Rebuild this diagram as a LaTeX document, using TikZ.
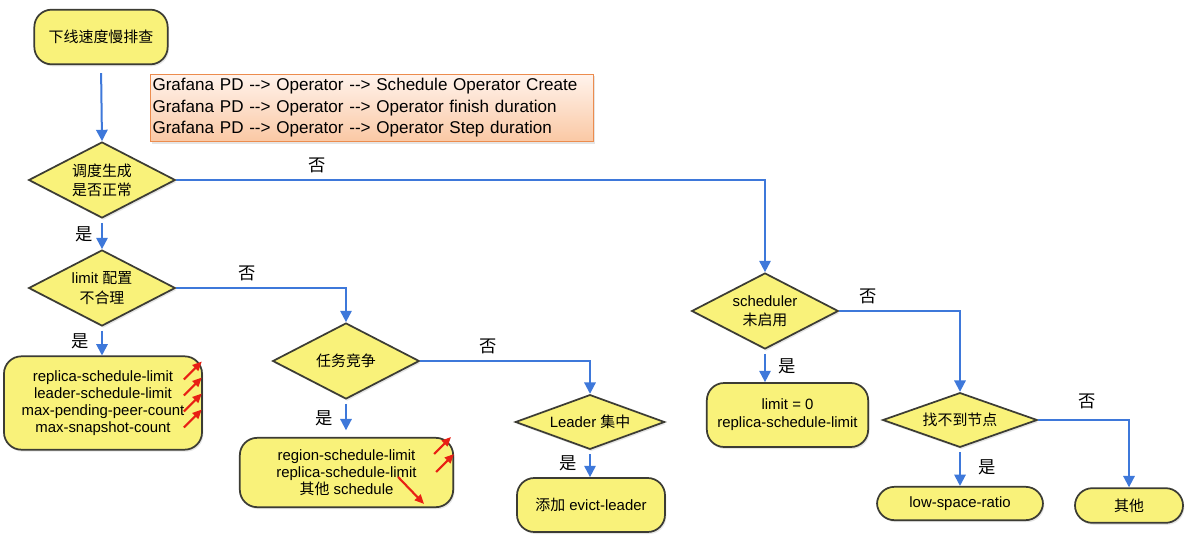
\documentclass[tikz,border=0pt]{standalone}
\usepackage{fontspec}
\setmainfont{Liberation Sans}
\newfontfamily\cjk{Noto Sans CJK SC}
\usetikzlibrary{shapes.geometric, arrows.meta, positioning, calc, shadows}

\definecolor{boxyellow}{RGB}{249,242,122}
\definecolor{boxedge}{RGB}{60,60,52}
\definecolor{flowblue}{RGB}{62,120,218}
\definecolor{noteedge}{RGB}{236,140,78}
\definecolor{notetop}{RGB}{255,243,236}
\definecolor{notebottom}{RGB}{250,200,164}
\definecolor{markred}{RGB}{232,32,20}

\begin{document}
\begin{tikzpicture}[
    x=0.75pt, y=-0.75pt,
    ybox/.style={rectangle, rounded corners=13pt, draw=boxedge, line width=1.3pt, fill=boxyellow, align=center, font=\fontsize{11.2}{12.8}\selectfont, drop shadow={opacity=0.2, shadow xshift=1pt, shadow yshift=-1.5pt}},
    ydia/.style={diamond, aspect=2.2, inner sep=0pt, draw=boxedge, line width=1.3pt, fill=boxyellow, align=center, minimum width=110pt, minimum height=57pt, font=\fontsize{11.2}{14.5}\selectfont, drop shadow={opacity=0.2, shadow xshift=1pt, shadow yshift=-1.5pt}},
    notebox/.style={rectangle, draw=noteedge, line width=0.8pt, top color=notetop, bottom color=notebottom, align=left, text width=329pt, inner xsep=1.5pt, minimum height=48pt, font=\fontsize{12.8}{16.1}\selectfont, drop shadow={opacity=0.2, shadow xshift=1pt, shadow yshift=-1.5pt}},
    flow/.style={-{Triangle[length=8.5pt, width=8.5pt]}, line width=1.5pt, flowblue},
    yes/.style={flow, shorten <=3pt},
    lbl/.style={font=\cjk\fontsize{13}{15}\selectfont, text=black},
    redarr/.style={-{Triangle[length=7pt, width=6pt]}, line width=1.6pt, markred}
]
\fill[white] (0,0) rectangle (1188,535);
\useasboundingbox (0,0) rectangle (1188,535);

% start and hint
\node[ybox, minimum width=100pt, minimum height=41pt] (start) at (101,37) {{\cjk 下线速度慢排查}};
\node[notebox, anchor=west] (note) at (150,108) {Grafana PD -{}-> Operator -{}-> Schedule Operator Create\\Grafana PD -{}-> Operator -{}-> Operator finish duration\\Grafana PD -{}-> Operator -{}-> Operator Step duration};

% decisions
\node[ydia] (d1) at (102,180) {{\cjk 调度生成}\\{\cjk 是否正常}};
\node[ydia] (d2) at (102,288) {limit {\cjk 配置}\\{\cjk 不合理}};
\node[ydia] (d3) at (346,361) {{\cjk 任务竞争}};
\node[ydia, minimum width=112pt, minimum height=41pt] (d4) at (590,422) {Leader {\cjk 集中}};
\node[ydia] (d5) at (765,311) {scheduler\\{\cjk 未启用}};
\node[ydia, minimum width=116pt, minimum height=41pt] (d6) at (960,420) {{\cjk 找不到节点}};

% results
\node[ybox, minimum width=148.5pt, minimum height=70pt] (b1) at (103,403) {replica-schedule-limit\\leader-schedule-limit\\max-pending-peer-count\\max-snapshot-count};
\node[ybox, minimum width=160pt, minimum height=52pt] (b2) at (346.5,472.5) {region-schedule-limit\\replica-schedule-limit\\{\cjk 其他} schedule};
\node[ybox, minimum width=111pt, minimum height=40.5pt] (b3) at (591,505) {{\cjk 添加} evict-leader};
\node[ybox, minimum width=121pt, minimum height=48pt, font=\fontsize{11.2}{13.3}\selectfont] (b4) at (787.5,415) {limit = 0\\replica-schedule-limit};
\node[ybox, minimum width=124.5pt, minimum height=25pt] (b5) at (960,503.5) {low-space-ratio};
\node[ybox, minimum width=81pt, minimum height=26pt] (b6) at (1129,505.5) {{\cjk 其他}};

% flow
\draw[flow, shorten <=6pt] (start.south) -- (d1.north);
\draw[flow] (d1.east) -| (d5.north) node[lbl, pos=0.12, above=1pt] {否};
\draw[yes] (d1.south) -- (d2.north) node[lbl, midway, left=3pt] {是};
\draw[flow] (d2.east) -| (d3.north) node[lbl, pos=0.21, above=1pt] {否};
\draw[yes] (d2.south) -- (d2.south |- b1.north) node[lbl, midway, left=6pt] {是};
\draw[flow] (d3.east) -| (d4.north) node[lbl, pos=0.2, above=1pt] {否};
\draw[yes, shorten >=5pt] (d3.south) -- (d3.south |- b2.north) node[lbl, midway, left=6pt] {是};
\draw[yes] (d4.south) -- (d4.south |- b3.north) node[lbl, midway, left=6pt] {是};
\draw[yes] (d5.south) -- (d5.south |- b4.north) node[lbl, midway, right=6pt] {是};
\draw[flow] (d5.east) -| (d6.north) node[lbl, pos=0.12, above=1pt] {否};
\draw[yes] (d6.south) -- (d6.south |- b5.north) node[lbl, midway, right=10pt] {是};
\draw[flow] (d6.east) -| (b6.north) node[lbl, pos=0.27, above=4pt] {否};

% red marks
\draw[redarr] ($(b1.north east)+(-19,24)$) -- ++(18,-18);
\draw[redarr] ($(b1.north east)+(-19,40)$) -- ++(18,-18);
\draw[redarr] ($(b1.north east)+(-19,56)$) -- ++(18,-18);
\draw[redarr] ($(b1.north east)+(-19,72)$) -- ++(18,-18);
\draw[redarr] ($(b2.north east)+(-20,17)$) -- ++(17,-17);
\draw[redarr] ($(b2.north east)+(-18,35)$) -- ++(18,-18);
\draw[redarr] ($(b2.north east)+(-56,40)$) -- ++(26,27);
\end{tikzpicture}
\end{document}
